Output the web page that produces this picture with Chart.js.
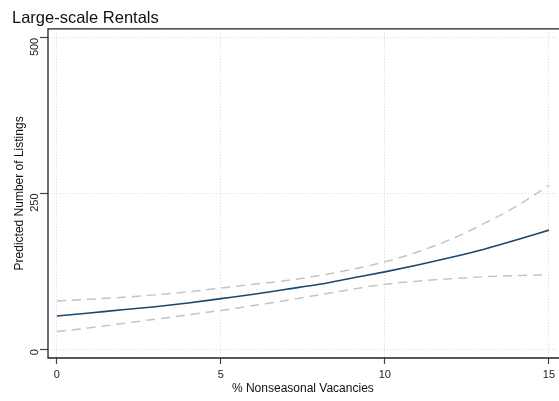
<!DOCTYPE html>
<html>
<head>
<meta charset="utf-8">
<script src="https://cdn.jsdelivr.net/npm/chart.js@4"></script>
<style>
  html, body { margin: 0; padding: 0; background: #fff; }
  .wrap { width: 559px; height: 401px; position: relative; }
</style>
</head>
<body>
<div class="wrap"><canvas id="chart"></canvas></div>
<script>
const vacancies = [0, 1, 2, 3, 4, 5, 6, 7, 8, 9, 10, 11, 12, 13, 14, 15];
const predicted = [53, 58, 63, 68, 74, 81, 88, 96, 104, 114, 124, 135, 147, 160, 175, 191];
const upperCI = [77, 80, 83, 87, 92, 98, 104, 110, 118, 128, 140, 156, 176, 201, 229, 263];
const lowerCI = [28, 34, 41, 48, 55, 62, 70, 78, 87, 96, 104, 109, 113, 116, 118, 119];
const xTicks = [0, 5, 10, 15];
const yTicks = [0, 250, 500];

const font = "'Liberation Sans', Arial, Helvetica, sans-serif";
const toPoints = (values) => vacancies.map((x, i) => ({ x, y: values[i] }));

const frame = {
  id: "frame",
  afterDraw(chart) {
    const { ctx, chartArea: a } = chart;
    ctx.save();
    ctx.strokeStyle = "#222";
    ctx.lineWidth = 1.3;
    ctx.beginPath();
    ctx.moveTo(a.right + 2, a.top);
    ctx.lineTo(a.left, a.top);
    ctx.lineTo(a.left, a.bottom);
    ctx.lineTo(a.right + 2, a.bottom);
    ctx.stroke();
    ctx.restore();
  }
};

const ciStyle = {
  borderColor: "#c4c4c4",
  borderDash: [9, 6],
  borderWidth: 1.5,
  pointRadius: 0,
  cubicInterpolationMode: "monotone",
  fill: false
};

new Chart(document.querySelector("#chart"), {
  type: "line",
  data: {
    datasets: [
      { label: "Upper", data: toPoints(upperCI), ...ciStyle },
      { label: "Lower", data: toPoints(lowerCI), ...ciStyle },
      {
        label: "Predicted",
        data: toPoints(predicted),
        borderColor: "#1a476f",
        borderWidth: 1.6,
        pointRadius: 0,
        cubicInterpolationMode: "monotone",
        fill: false
      }
    ]
  },
  options: {
    responsive: true,
    maintainAspectRatio: false,
    animation: false,
    layout: { padding: { left: 12, right: 0, top: 0, bottom: 5 } },
    plugins: {
      legend: { display: false },
      tooltip: { enabled: false },
      title: {
        display: true,
        text: "Large-scale Rentals",
        align: "start",
        color: "#111",
        font: { family: font, size: 16.5, weight: "normal" },
        padding: { top: 9, bottom: 0 }
      }
    },
    scales: {
      x: {
        type: "linear",
        min: -0.27,
        max: 15.27,
        afterBuildTicks: (scale) => { scale.ticks = xTicks.map((value) => ({ value })); },
        afterFit: (scale) => { scale.height = 38; },
        ticks: { color: "#222", font: { family: font, size: 11 }, padding: 4, maxRotation: 0 },
        grid: { color: "#dadada", tickColor: "#444", tickLength: 6, tickWidth: 1.2, lineWidth: 1 },
        border: { display: false, dash: [1, 2] },
        title: {
          display: true,
          text: "% Nonseasonal Vacancies",
          color: "#111",
          font: { family: font, size: 12 },
          padding: { top: 2, bottom: 0 }
        }
      },
      y: {
        type: "linear",
        min: -14.4,
        max: 514.4,
        afterBuildTicks: (scale) => { scale.ticks = yTicks.map((value) => ({ value })); },
        afterFit: (scale) => { scale.width = 36; },
        ticks: { color: "#222", font: { family: font, size: 11 }, padding: 5, minRotation: 90, maxRotation: 90 },
        grid: { color: "#dadada", tickColor: "#444", tickLength: 8, tickWidth: 1.2, lineWidth: 1 },
        border: { display: false, dash: [1, 2] },
        title: {
          display: true,
          text: "Predicted Number of Listings",
          color: "#111",
          font: { family: font, size: 12 },
          padding: { top: 0, bottom: 0 }
        }
      }
    }
  },
  plugins: [frame]
});
</script>
</body>
</html>
